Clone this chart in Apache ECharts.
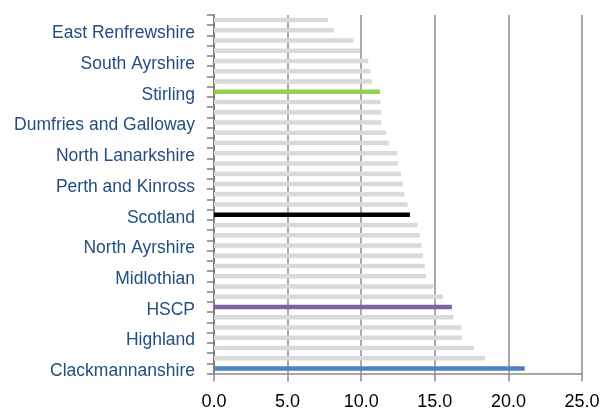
<!DOCTYPE html>
<html>
<head>
<meta charset="utf-8">
<script src="https://cdn.jsdelivr.net/npm/echarts@6/dist/echarts.min.js"></script>
<style>html,body{margin:0;padding:0;background:#fff}#c{width:613px;height:412px}</style>
</head>
<body>
<div id="c"></div>
<script>
// bottom to top
var categories = ["Clackmannanshire","Inverclyde","Dundee City","Highland","West Dunbartonshire","Glasgow City","HSCP","Fife","East Ayrshire","Midlothian","Renfrewshire","Falkirk","North Ayrshire","South Lanarkshire","West Lothian","Scotland","Angus","Scottish Borders","Perth and Kinross","Moray","Argyll and Bute","North Lanarkshire","Aberdeen City","City of Edinburgh","Dumfries and Galloway","East Lothian","Na h-Eileanan Siar","Stirling","Aberdeenshire","East Dunbartonshire","South Ayrshire","Orkney Islands","Shetland Islands","East Renfrewshire","Family Group"];
var values = [21.11,18.42,17.67,16.84,16.79,16.25,16.16,15.55,14.91,14.41,14.32,14.21,14.10,13.99,13.83,13.31,13.15,12.94,12.83,12.70,12.51,12.45,11.88,11.68,11.36,11.36,11.31,11.27,10.75,10.64,10.48,9.91,9.48,8.15,7.76];
var highlight = {"Clackmannanshire":"#4f81bd","HSCP":"#8064a2","Scotland":"#000000","Stirling":"#92d050"};
var xTicks = [0,5,10,15,20,25];

var chart = echarts.init(document.getElementById('c'), null, {renderer:'canvas'});
chart.setOption({
  animation:false,
  grid:{left:214,right:31,top:15,bottom:38.5,containLabel:false},
  xAxis:{
    type:'value',min:xTicks[0],max:xTicks[xTicks.length-1],interval:5,
    axisLine:{show:true,lineStyle:{color:'#8c8c8c',width:1.5}},
    axisTick:{show:true,length:8,lineStyle:{color:'#8c8c8c',width:1.5}},
    axisLabel:{formatter:function(v){return v.toFixed(1);},color:'#000',fontFamily:'Liberation Sans, Arial',fontSize:18,margin:20},
    splitLine:{show:true,lineStyle:{color:'#8c8c8c',width:1.5}}
  },
  yAxis:{
    type:'category',data:categories,
    axisLine:{show:true,lineStyle:{color:'#808080',width:2}},
    axisTick:{show:true,interval:0,length:7,lineStyle:{color:'#808080',width:1.5}},
    axisLabel:{interval:2,margin:19,
      formatter:function(v){return '{a|'+v+'}';},
      rich:{a:{color:'#234e82',fontFamily:'Liberation Sans, Arial',fontSize:17.5,padding:[6,0,0,0]}}
    },
    splitLine:{show:false}
  },
  series:[{
    type:'bar',barWidth:4.5,z:3,
    data:values.map(function(v,i){
      var c = highlight[categories[i]] || '#d9d9d9';
      return {value:v,itemStyle:{color:c}};
    })
  }]
});
</script>
</body>
</html>
